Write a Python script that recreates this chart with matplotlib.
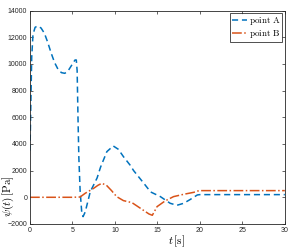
import matplotlib
matplotlib.use("Agg")
import matplotlib.pyplot as plt

plt.rcParams['mathtext.fontset'] = 'cm'
plt.rcParams['font.family'] = ['Liberation Sans', 'DejaVu Sans']

# Point A (blue dashed)
t_a = [0, 0.1, 0.2, 0.35, 0.6, 0.9, 1.3, 1.7, 2.1, 2.5, 2.9, 3.3, 3.7, 4.1, 4.5,
       4.9, 5.3, 5.45, 5.55, 5.65, 5.75, 5.9, 6.1, 6.25, 6.5, 7.1, 7.9, 8.3, 9.05,
       9.8, 10.4, 11.0, 11.8, 12.2, 13.4, 14.2, 15.35, 16.5, 17.3, 18.1, 18.9,
       19.7, 20.0, 30.0]
v_a = [3500, 7000, 10500, 12200, 12750, 12850, 12700, 12300, 11600, 10800, 10100,
       9600, 9350, 9300, 9500, 9900, 10300, 10300, 9500, 6000, 3000, 500, -1200,
       -1450, -1100, 425, 1450, 2250, 3425, 3850, 3600, 3050, 2400, 2000, 1050,
       400, 50, -450, -600, -450, -150, 175, 200, 200]

# Point B (orange dash-dot)
t_b = [0, 5.0, 5.9, 6.5, 7.5, 8.0, 8.46, 9.0, 9.6, 10.2, 11.0, 12.0, 13.0, 14.0,
       14.4, 14.96, 15.9, 16.9, 18.1, 19.3, 19.9, 30.0]
v_b = [0, 0, 20, 300, 675, 900, 1050, 900, 500, 50, -250, -400, -825, -1250,
       -1350, -700, -275, 50, 225, 375, 500, 500]

x_ticks = [0, 5, 10, 15, 20, 25, 30]
y_ticks = [-2000, 0, 2000, 4000, 6000, 8000, 10000, 12000, 14000]

fig = plt.figure(figsize=(2.97, 2.48), dpi=100)
ax = fig.add_axes([0.101, 0.097, 0.858, 0.86])

ax.plot(t_a, v_a, color='#0072BD', linestyle='--', linewidth=1.1,
        dashes=(4, 2.5), label=r'$\mathrm{point\ A}$')
ax.plot(t_b, v_b, color='#D95319', linestyle='-.', linewidth=1.1,
        label=r'$\mathrm{point\ B}$')

ax.set_xlim(0, 30)
ax.set_ylim(-2000, 14000)
ax.set_xticks(x_ticks)
ax.set_yticks(y_ticks)
ax.tick_params(direction='in', top=True, right=True, labelsize=5,
               length=2.5, width=0.5, colors='#262626', pad=2)
for s in ax.spines.values():
    s.set_linewidth(0.6)
    s.set_color('#262626')

ax.set_xlabel(r'$t\,[\mathrm{s}]$', fontsize=8)
ax.xaxis.set_label_coords(0.576, -0.045)
ax.set_ylabel(r'$\psi(t)\,[\mathrm{Pa}]$', fontsize=8)
ax.yaxis.set_label_coords(-0.055, 0.13)

leg = ax.legend(loc='upper right', fontsize=6.5, frameon=True, fancybox=False,
                edgecolor='black', handlelength=1.7, handletextpad=0.2,
                borderpad=0.2, labelspacing=0.1, borderaxespad=0.3)
leg.get_frame().set_linewidth(0.6)

fig.savefig('out.png', dpi=100)
